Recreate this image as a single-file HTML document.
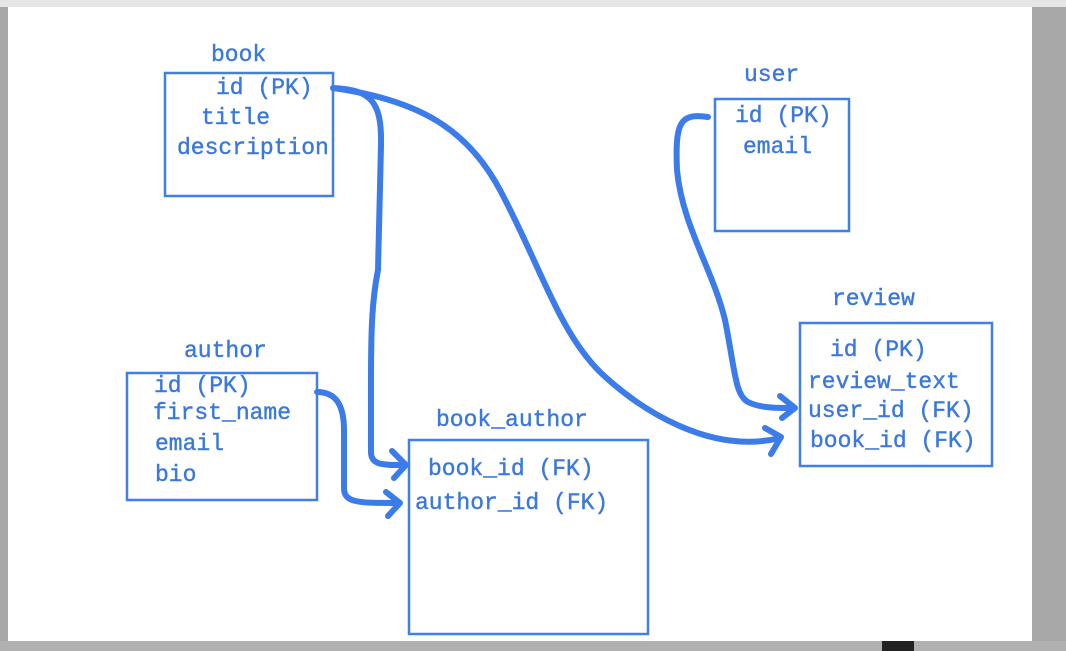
<!DOCTYPE html>
<html><head><style>
html,body{margin:0;padding:0;width:1066px;height:651px;overflow:hidden;background:#fff}
svg{display:block}
text{font-family:"Liberation Mono",monospace;font-size:23px;fill:#3a78dc;stroke:#3a78dc;stroke-width:0.4}
</style></head><body>
<svg width="1066" height="651" viewBox="0 0 1066 651">
<rect x="0" y="0" width="1066" height="651" fill="#fff"/>
<rect x="0" y="0" width="1066" height="7" fill="#e6e6e6"/>
<rect x="0" y="7" width="8" height="644" fill="#a8a8a8"/>
<rect x="1032" y="7" width="34" height="644" fill="#a8a8a8"/>
<rect x="0" y="641" width="1066" height="10" fill="#b0b0b0"/>
<rect x="882" y="641" width="32" height="10" fill="#222"/>
<g fill="none" stroke="#3f7fe6" stroke-width="2.5">
<rect x="165" y="73" width="168" height="123"/>
<rect x="715" y="99" width="134" height="132"/>
<rect x="800" y="323" width="192" height="143"/>
<rect x="127" y="373" width="190" height="127"/>
<rect x="409" y="440" width="239" height="194"/>
</g>
<text x="211" y="61">book</text>
<text x="216" y="94">id (PK)</text>
<text x="201" y="124">title</text>
<text x="177" y="154">description</text>
<text x="744" y="81">user</text>
<text x="735" y="122">id (PK)</text>
<text x="743" y="153">email</text>
<text x="832" y="305">review</text>
<text x="830" y="356">id (PK)</text>
<text x="808" y="388">review_text</text>
<text x="808" y="417">user_id (FK)</text>
<text x="810" y="447">book_id (FK)</text>
<text x="184" y="357">author</text>
<text x="154" y="392">id (PK)</text>
<text x="153" y="419">first_name</text>
<text x="155" y="450">email</text>
<text x="155" y="481">bio</text>
<text x="436" y="426">book_author</text>
<text x="428" y="475">book_id (FK)</text>
<text x="415" y="509">author_id (FK)</text>
<g fill="none" stroke="#3b7cea" stroke-width="6" stroke-linecap="round" stroke-linejoin="round">
<path d="M333,88 C370,90 382,100 381,145 L378,270 C372,300 371,330 371,380 L371,452 C371,466 385,465 405,465"/>
<path d="M392,451 L406,465 L394,478"/>
<path d="M333,88 C420,100 468,130 500,190 C540,265 558,330 600,372 C640,410 710,455 780,438"/>
<path d="M765,428 L781,437 L771,454"/>
<path d="M708,117 C680,113 675,122 677,170 C682,225 713,270 725,320 C735,370 735,395 748,402 C760,408 775,408 793,408"/>
<path d="M780,396 L795,408 L782,418"/>
<path d="M317,392 C336,392 344,405 344,430 L344,488 C344,503 358,503 399,503"/>
<path d="M386,492 L400,503 L388,516"/>
</g>
</svg>
</body></html>
